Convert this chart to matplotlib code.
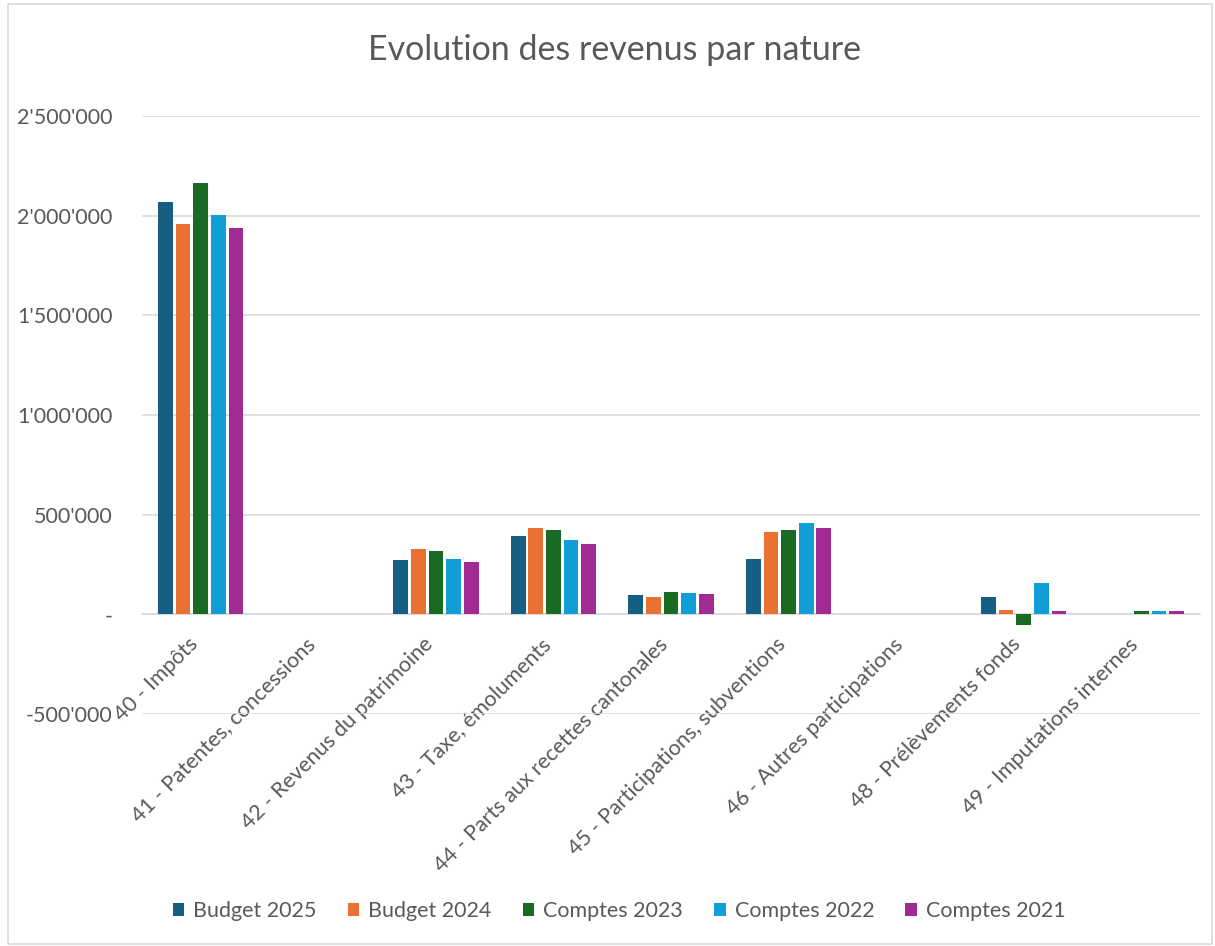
import matplotlib.pyplot as plt
import matplotlib.ticker as mticker
import matplotlib.transforms as mtrans
import numpy as np

# Données
categories = ["40 - Impôts", "41 - Patentes, concessions", "42 - Revenus du patrimoine",
              "43 - Taxe, émoluments", "44 - Parts aux recettes cantonales",
              "45 - Participations, subventions", "46 - Autres participations",
              "48 - Prélèvements fonds", "49 - Imputations internes"]
series = ["Budget 2025", "Budget 2024", "Comptes 2023", "Comptes 2022", "Comptes 2021"]
budget_2025 = [2068000, 0, 271000, 394000, 97000, 278000, 0, 87000, 0]
budget_2024 = [1957000, 0, 327000, 433000, 87000, 413000, 0, 22000, 0]
comptes_2023 = [2162000, 0, 317000, 421000, 113000, 423000, 0, -53000, 15000]
comptes_2022 = [2003000, 0, 277000, 373000, 108000, 458000, 0, 155000, 15000]
comptes_2021 = [1936000, 0, 261000, 351000, 103000, 433000, 0, 17000, 15000]
couleurs = ["#156082", "#E97132", "#196B24", "#0F9ED5", "#A02B93"]

plt.rcParams['font.family'] = ['Lato', 'DejaVu Sans']
gris = "#595959"
taille = 15.5

fig = plt.figure(figsize=(12.15, 9.46), dpi=100)
ax = fig.add_axes([142 / 1215, 1 - 714 / 946, 1058 / 1215, 598 / 946])

x = np.arange(len(categories))
valeurs = [budget_2025, budget_2024, comptes_2023, comptes_2022, comptes_2021]
pas = 0.15
largeur = 0.125
for k, (nom, v) in enumerate(zip(series, valeurs)):
    ax.bar(x + (k - 2) * pas, v, largeur, color=couleurs[k], label=nom, zorder=3)

ax.set_xlim(-0.5, len(categories) - 0.5)
ax.set_ylim(-500000, 2500000)
ax.yaxis.set_major_locator(mticker.MultipleLocator(500000))


def format_chf(val, pos):
    if abs(val) < 1:
        return "-"
    return f"{int(round(val)):,}".replace(",", "'")


ax.yaxis.set_major_formatter(mticker.FuncFormatter(format_chf))
ax.grid(axis="y", color="#D9D9D9", linewidth=1.2, zorder=0)
for s in ["top", "right", "left"]:
    ax.spines[s].set_visible(False)
ax.spines["bottom"].set_position(("data", 0))
ax.spines["bottom"].set_color("#D9D9D9")
ax.spines["bottom"].set_linewidth(1.2)
ax.tick_params(axis="both", length=0, colors=gris, labelsize=taille)
ax.tick_params(axis="y", pad=21)
ax.tick_params(axis="x", pad=0)

ax.set_xticks(x)
ax.set_xticklabels(categories, rotation=45, ha="right", va="center", rotation_mode="anchor")

# décalage des étiquettes (ancrées sous la ligne du zéro)
decal = mtrans.ScaledTranslation(-6 / 100, -27 / 100, fig.dpi_scale_trans)
for lab in ax.get_xticklabels():
    lab.set_color(gris)
    lab.set_transform(lab.get_transform() + decal)

fig.suptitle("Evolution des revenus par nature", x=614 / 1215, y=1 - 50 / 946,
             va="center", fontsize=24.5, color=gris)

fig.legend(loc="center", bbox_to_anchor=(619 / 1215, 1 - 911 / 946), ncol=5,
           frameon=False, fontsize=taille, handlelength=0.55, handleheight=0.55,
           handletextpad=0.4, columnspacing=1.45, labelcolor=gris)

cadre = plt.Rectangle((8 / 1215, 2 / 946), 1204 / 1215, 940 / 946, transform=fig.transFigure,
                      fill=False, edgecolor="#D9D9D9", linewidth=1.2)
fig.add_artist(cadre)

fig.savefig("out.png", dpi=100, facecolor="white")
